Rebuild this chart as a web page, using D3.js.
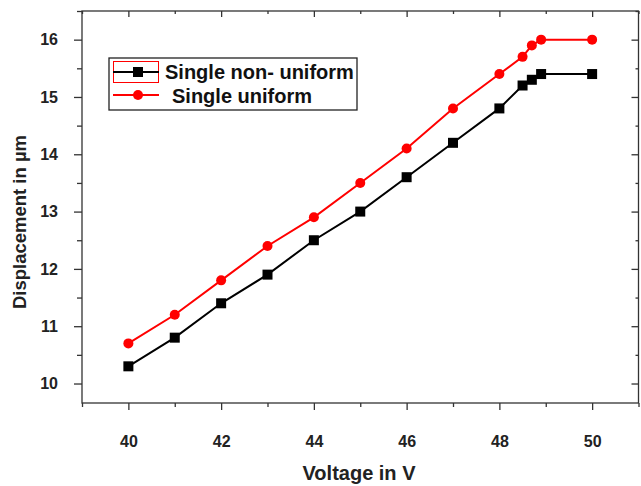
<!DOCTYPE html>
<html><head><meta charset="utf-8">
<script src="https://cdn.jsdelivr.net/npm/d3@7/dist/d3.min.js"></script>
<style>body{margin:0;background:#fff;} text{font-family:Arial,"Liberation Sans",sans-serif;font-weight:bold;}</style>
</head><body><svg id="c" width="641" height="486"></svg>
<script>
const voltage = [40, 41, 42, 43, 44, 45, 46, 47, 48, 48.5, 48.7, 48.9, 50];
const nonUniform = [10.3, 10.8, 11.4, 11.9, 12.5, 13.0, 13.6, 14.2, 14.8, 15.2, 15.3, 15.4, 15.4];
const uniform = [10.7, 11.2, 11.8, 12.4, 12.9, 13.5, 14.1, 14.8, 15.4, 15.7, 15.9, 16.0, 16.0];
const xTicks = [40, 42, 44, 46, 48, 50];
const xMinor = [39, 41, 43, 45, 47, 49, 51];
const yTicks = [10, 11, 12, 13, 14, 15, 16];
const yMinor = [10.5, 11.5, 12.5, 13.5, 14.5, 15.5, 16.5];
const seriesNames = ["Single non- uniform", "Single uniform"];

const svg = d3.select("#c");
const L = 82, R = 638.5, T = 11, B = 403;
const x = d3.scaleLinear().domain([39, 51]).range([L, R]);
const y = d3.scaleLinear().domain([9.66, 16.5]).range([B, T]);
const axCol = "#333";

// frame
svg.append("rect").attr("x", L).attr("y", T).attr("width", R - L).attr("height", B - T)
  .attr("fill", "none").attr("stroke", axCol).attr("stroke-width", 1.3);

// bottom axis
svg.append("g").attr("transform", `translate(0,${B})`)
  .call(d3.axisBottom(x).tickValues(xTicks).tickSize(7).tickPadding(26).tickFormat(d3.format("d")));
svg.append("g").attr("transform", `translate(0,${B})`)
  .call(d3.axisBottom(x).tickValues(xMinor).tickSize(4).tickFormat(""));
// top axis inward
svg.append("g").attr("transform", `translate(0,${T})`)
  .call(d3.axisBottom(x).tickValues(xTicks).tickSize(6).tickFormat(""));
svg.append("g").attr("transform", `translate(0,${T})`)
  .call(d3.axisBottom(x).tickValues(xMinor).tickSize(3).tickFormat(""));
// left axis
svg.append("g").attr("transform", `translate(${L},0)`)
  .call(d3.axisLeft(y).tickValues(yTicks).tickSize(8).tickPadding(16).tickFormat(d3.format("d")));
svg.append("g").attr("transform", `translate(${L},0)`)
  .call(d3.axisLeft(y).tickValues(yMinor).tickSize(5).tickFormat(""));
// right axis inward
svg.append("g").attr("transform", `translate(${R},0)`)
  .call(d3.axisLeft(y).tickValues(yTicks).tickSize(7).tickFormat(""));
svg.append("g").attr("transform", `translate(${R},0)`)
  .call(d3.axisLeft(y).tickValues(yMinor).tickSize(3).tickFormat(""));

svg.selectAll(".domain").remove();
svg.selectAll(".tick line").attr("stroke", axCol).attr("stroke-width", 1.3);
svg.selectAll(".tick text").attr("fill", "#222").style("font-size", "16px").style("font-weight", "bold");

// axis titles
svg.append("text").attr("x", 359).attr("y", 480).attr("text-anchor", "middle")
  .style("font-size", "20px").attr("fill", "#222").text("Voltage in V");
svg.append("text").attr("transform", `translate(26,222) rotate(-90)`).attr("text-anchor", "middle")
  .style("font-size", "18.5px").attr("fill", "#222").text("Displacement in µm");

// lines
const line = d3.line().x((d, i) => x(voltage[i])).y(d => y(d));
svg.append("path").datum(nonUniform).attr("d", line).attr("fill", "none").attr("stroke", "#000").attr("stroke-width", 2);
svg.append("path").datum(uniform).attr("d", line).attr("fill", "none").attr("stroke", "#ff0000").attr("stroke-width", 2);

svg.selectAll(".sq").data(nonUniform).enter().append("rect")
  .attr("x", (d, i) => x(voltage[i]) - 5).attr("y", d => y(d) - 5).attr("width", 10).attr("height", 10).attr("fill", "#000");
svg.selectAll(".ci").data(uniform).enter().append("circle")
  .attr("cx", (d, i) => x(voltage[i])).attr("cy", d => y(d)).attr("r", 5).attr("fill", "#ff0000");

// legend
const lg = svg.append("g");
lg.append("rect").attr("x", 109).attr("y", 58).attr("width", 248).attr("height", 52)
  .attr("fill", "#fff").attr("stroke", "#222").attr("stroke-width", 1.3);
lg.append("rect").attr("x", 113.5).attr("y", 61.5).attr("width", 45).attr("height", 21)
  .attr("fill", "none").attr("stroke", "#ff0000").attr("stroke-width", 1);
lg.append("line").attr("x1", 113).attr("x2", 159).attr("y1", 72).attr("y2", 72).attr("stroke", "#000").attr("stroke-width", 2);
lg.append("rect").attr("x", 133).attr("y", 67).attr("width", 10).attr("height", 10).attr("fill", "#000");
lg.append("line").attr("x1", 113).attr("x2", 159).attr("y1", 95).attr("y2", 95).attr("stroke", "#ff0000").attr("stroke-width", 2);
lg.append("circle").attr("cx", 138).attr("cy", 95).attr("r", 5).attr("fill", "#ff0000");
lg.append("text").attr("x", 165).attr("y", 79).style("font-size", "20px").attr("fill", "#111").text(seriesNames[0]);
lg.append("text").attr("x", 172).attr("y", 102.5).style("font-size", "20px").attr("fill", "#111").text(seriesNames[1]);
</script></body></html>
